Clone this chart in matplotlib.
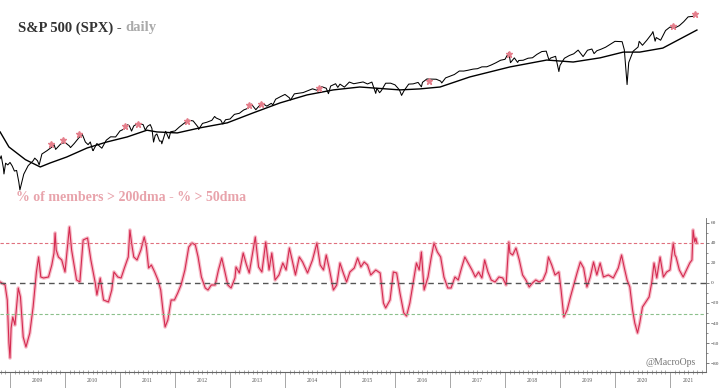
import matplotlib.pyplot as plt
from matplotlib.ticker import MultipleLocator

plt.rcParams['font.family'] = ['Liberation Serif', 'DejaVu Serif']

# S&P 500 price (decimal year, level)
spx_t = [2008.82, 2008.84, 2008.88, 2008.89, 2008.92, 2008.96, 2009.00, 2009.04, 2009.08, 2009.12,
         2009.16, 2009.18, 2009.25, 2009.33, 2009.42, 2009.45, 2009.50, 2009.53, 2009.58, 2009.67,
         2009.75, 2009.80, 2009.83, 2009.92, 2010.00, 2010.08, 2010.10, 2010.17, 2010.25, 2010.31,
         2010.33, 2010.37, 2010.42, 2010.46, 2010.50, 2010.51, 2010.58, 2010.63, 2010.67, 2010.75,
         2010.83, 2010.92, 2011.00, 2011.08, 2011.14, 2011.17, 2011.21, 2011.25, 2011.33, 2011.42,
         2011.46, 2011.50, 2011.55, 2011.58, 2011.61, 2011.64, 2011.67, 2011.72, 2011.75, 2011.76,
         2011.83, 2011.89, 2011.92, 2012.00, 2012.08, 2012.17, 2012.25, 2012.33, 2012.42, 2012.43,
         2012.50, 2012.58, 2012.67, 2012.72, 2012.75, 2012.83, 2012.87, 2012.92, 2013.00, 2013.08,
         2013.17, 2013.25, 2013.33, 2013.39, 2013.42, 2013.47, 2013.50, 2013.58, 2013.67, 2013.75,
         2013.78, 2013.83, 2013.92, 2014.00, 2014.08, 2014.10, 2014.17, 2014.25, 2014.33, 2014.42,
         2014.50, 2014.58, 2014.67, 2014.75, 2014.79, 2014.83, 2014.92, 2014.96, 2015.00, 2015.08,
         2015.17, 2015.25, 2015.33, 2015.42, 2015.50, 2015.58, 2015.65, 2015.67, 2015.72, 2015.75,
         2015.83, 2015.92, 2016.00, 2016.08, 2016.12, 2016.17, 2016.25, 2016.33, 2016.42, 2016.48,
         2016.50, 2016.58, 2016.67, 2016.75, 2016.83, 2016.85, 2016.92, 2017.00, 2017.08, 2017.17,
         2017.25, 2017.33, 2017.42, 2017.50, 2017.58, 2017.67, 2017.75, 2017.83, 2017.92, 2018.00,
         2018.07, 2018.10, 2018.17, 2018.23, 2018.25, 2018.33, 2018.42, 2018.50, 2018.58, 2018.67,
         2018.75, 2018.80, 2018.83, 2018.92, 2018.98, 2019.00, 2019.08, 2019.17, 2019.25, 2019.33,
         2019.42, 2019.50, 2019.58, 2019.62, 2019.67, 2019.75, 2019.83, 2019.92, 2020.00, 2020.08,
         2020.13, 2020.17, 2020.22, 2020.25, 2020.33, 2020.42, 2020.44, 2020.50, 2020.58, 2020.67,
         2020.69, 2020.73, 2020.75, 2020.83, 2020.92, 2021.00, 2021.08, 2021.17, 2021.25, 2021.33,
         2021.42, 2021.47]
spx = [940, 968, 850, 800, 896, 880, 903, 870, 825, 830,
       735, 676, 798, 873, 919, 945, 919, 880, 987, 1021,
       1057, 1090, 1036, 1096, 1115, 1074, 1056, 1104, 1169, 1217,
       1187, 1120, 1089, 1120, 1031, 1022, 1102, 1070, 1049, 1141,
       1183, 1181, 1258, 1286, 1343, 1327, 1256, 1326, 1364, 1345,
       1268, 1321, 1345, 1292, 1119, 1200, 1219, 1130, 1131, 1099,
       1253, 1158, 1247, 1258, 1312, 1366, 1408, 1398, 1310, 1278,
       1362, 1379, 1407, 1465, 1441, 1412, 1353, 1416, 1426, 1498,
       1515, 1569, 1598, 1669, 1631, 1573, 1606, 1686, 1633, 1682,
       1656, 1757, 1806, 1848, 1783, 1741, 1859, 1872, 1884, 1924,
       1960, 1931, 2003, 1972, 1862, 2018, 2068, 1990, 2059, 1995,
       2105, 2068, 2086, 2107, 2063, 2104, 1868, 1972, 1882, 1920,
       2079, 2080, 2044, 1940, 1829, 1932, 2060, 2065, 2097, 2001,
       2099, 2174, 2171, 2168, 2126, 2085, 2199, 2239, 2279, 2364,
       2363, 2384, 2412, 2423, 2470, 2472, 2519, 2575, 2648, 2674,
       2873, 2581, 2714, 2588, 2641, 2648, 2705, 2718, 2816, 2902,
       2914, 2656, 2711, 2760, 2351, 2507, 2704, 2784, 2834, 2946,
       2752, 2942, 2980, 2840, 2926, 2977, 3038, 3141, 3231, 3226,
       3220, 2954, 2050, 2585, 2912, 3044, 3232, 3100, 3271, 3500,
       3580, 3237, 3363, 3270, 3622, 3756, 3714, 3811, 3973, 4181,
       4204, 4250]

# long moving average
ma_t = [2008.82, 2008.98, 2009.28, 2009.55, 2009.73, 2010.03, 2010.40, 2010.76, 2011.13, 2011.49,
        2011.67, 2012.04, 2012.45, 2012.95, 2013.42, 2013.91, 2014.40, 2014.88, 2015.36, 2016.09,
        2016.45, 2016.82, 2017.36, 2018.09, 2018.76, 2019.24, 2019.73, 2020.15, 2020.45, 2020.87,
        2021.49]
ma = [1245, 1063, 930, 861, 898, 956, 1051, 1120, 1181, 1268,
      1245, 1232, 1299, 1370, 1521, 1690, 1838, 1938, 1998, 1938,
      1958, 1998, 2221, 2468, 2654, 2599, 2716, 2885, 2885, 3010,
      3640]

# red stars on the price line
star_t = [2009.75, 2009.96, 2010.25, 2011.09, 2011.33, 2012.22, 2013.35, 2013.56, 2014.62, 2016.62,
          2018.07, 2021.05, 2021.45]
star_p = [1097, 1143, 1218, 1326, 1354, 1397, 1652, 1669, 1978, 2128,
          2827, 3795, 4330]

# % of members > 200dma - % > 50dma
br_t = [2008.82, 2008.91, 2008.95, 2008.98, 2009.00, 2009.02, 2009.05, 2009.09, 2009.15, 2009.19,
        2009.24, 2009.29, 2009.36, 2009.42, 2009.48, 2009.52, 2009.56, 2009.61, 2009.70, 2009.76,
        2009.80, 2009.82, 2009.84, 2009.88, 2009.94, 2010.00, 2010.08, 2010.12, 2010.21, 2010.27,
        2010.33, 2010.41, 2010.47, 2010.55, 2010.58, 2010.64, 2010.70, 2010.79, 2010.85, 2010.89,
        2010.96, 2011.02, 2011.08, 2011.15, 2011.18, 2011.21, 2011.25, 2011.31, 2011.38, 2011.44,
        2011.48, 2011.52, 2011.57, 2011.63, 2011.69, 2011.74, 2011.78, 2011.82, 2011.87, 2011.93,
        2011.99, 2012.05, 2012.11, 2012.18, 2012.25, 2012.31, 2012.37, 2012.42, 2012.48, 2012.55,
        2012.60, 2012.66, 2012.73, 2012.79, 2012.85, 2012.90, 2012.96, 2013.02, 2013.09, 2013.11,
        2013.17, 2013.24, 2013.30, 2013.35, 2013.41, 2013.46, 2013.52, 2013.58, 2013.65, 2013.71,
        2013.76, 2013.82, 2013.89, 2013.96, 2014.02, 2014.08, 2014.13, 2014.19, 2014.26, 2014.32,
        2014.41, 2014.50, 2014.58, 2014.64, 2014.70, 2014.75, 2014.81, 2014.88, 2014.94, 2015.00,
        2015.06, 2015.12, 2015.18, 2015.26, 2015.32, 2015.38, 2015.44, 2015.50, 2015.56, 2015.65,
        2015.73, 2015.79, 2015.83, 2015.91, 2015.97, 2016.03, 2016.09, 2016.16, 2016.21, 2016.27,
        2016.33, 2016.39, 2016.44, 2016.48, 2016.53, 2016.60, 2016.66, 2016.71, 2016.77, 2016.83,
        2016.89, 2016.96, 2017.02, 2017.09, 2017.15, 2017.21, 2017.27, 2017.33, 2017.40, 2017.46,
        2017.52, 2017.58, 2017.63, 2017.69, 2017.75, 2017.82, 2017.89, 2017.96, 2018.02, 2018.07,
        2018.09, 2018.14, 2018.20, 2018.26, 2018.32, 2018.38, 2018.44, 2018.50, 2018.56, 2018.62,
        2018.69, 2018.75, 2018.79, 2018.85, 2018.91, 2018.98, 2019.02, 2019.07, 2019.13, 2019.19,
        2019.25, 2019.31, 2019.37, 2019.43, 2019.49, 2019.55, 2019.61, 2019.67, 2019.73, 2019.79,
        2019.88, 2019.97, 2020.06, 2020.12, 2020.17, 2020.22, 2020.27, 2020.32, 2020.36, 2020.41,
        2020.45, 2020.50, 2020.56, 2020.62, 2020.67, 2020.71, 2020.76, 2020.82, 2020.88, 2020.94,
        2021.00, 2021.06, 2021.09, 2021.11, 2021.17, 2021.24, 2021.30, 2021.36, 2021.40, 2021.42,
        2021.45, 2021.47, 2021.49]
br_v = [1, -2, -17, -60, -75, -45, -34, -42, -5, -14,
        -54, -64, -50, -24, 11, 26, 6, 5, 6, 18,
        30, 50, 33, 26, 23, 11, 56, 33, 3, 1,
        43, 45, 23, 0, -12, 5, -17, -19, -7, 11,
        6, 5, 15, 26, 53, 40, 26, 23, 33, 46,
        36, 15, 18, 11, 3, -7, -27, -44, -37, -17,
        -17, -10, -2, 13, 36, 40, 38, 26, 6, -5,
        -7, -2, -2, 13, 25, 13, -2, -5, 5, 16,
        10, 30, 18, 10, 30, 46, 16, 11, 41, 13,
        30, 3, 8, 20, 13, 35, 23, 8, 26, 21,
        10, 23, 40, 18, 13, 28, 13, -7, -2, 20,
        10, 1, 11, 15, 25, 16, 21, 18, 8, 13,
        10, -20, -25, -17, 11, 10, -10, -30, -33, -20,
        0, 20, 13, 31, -7, 6, 26, 40, 31, 26,
        6, -5, -5, 6, 3, 15, 26, 20, 13, 6,
        11, 5, 23, 11, 3, 1, 6, 5, -2, 41,
        30, 28, 35, 23, 8, 3, -4, 0, 3, 1,
        3, 11, 26, 18, 8, 11, -7, -34, -27, -14,
        -2, 10, 21, 15, -4, 6, 21, 8, 20, 6,
        8, 5, 15, 28, 15, 3, -4, -27, -40, -50,
        -40, -24, -19, -14, 1, 20, 5, 26, 6, 11,
        13, 40, 28, 26, 13, 6, 13, 20, 23, 53,
        41, 45, 40]

levels = [40, 0, -31]
years = list(range(2009, 2022))

fig = plt.figure(figsize=(7.2, 3.88), dpi=100)
x0, x1 = 2008.818, 2021.655
axw = 706 / 720

# top panel: price, log scale, no axes drawn
ax1 = fig.add_axes([0, 0.4845, axw, 0.5155])
ax1.set_yscale('log')
ax1.plot(spx_t, spx, color='black', lw=0.75)
ax1.plot(ma_t, ma, color='black', lw=1.0)
ax1.plot(star_t, star_p, ls='none', marker='*', ms=5, color='#e57f8c')
ax1.set_xlim(x0, x1)
ax1.set_ylim(608, 4993)
ax1.axis('off')

# bottom panel: breadth spread
ax2 = fig.add_axes([0, 0.0412, axw, 0.397])
ax2.plot(br_t, br_v, color='#f4a6b6', lw=2.6, alpha=0.75)
ax2.plot(br_t, br_v, color='#d42a50', lw=0.8)
ax2.axhline(levels[0], color='#e0707e', lw=0.8, ls=(0, (3, 2)))
ax2.axhline(levels[1], color='#555555', lw=1.0, ls=(0, (4, 3)))
ax2.axhline(levels[2], color='#8cc08c', lw=0.8, ls=(0, (3, 2)))
ax2.set_xlim(x0, x1)
ax2.set_ylim(-89, 65)

for s in ['left', 'top']:
    ax2.spines[s].set_visible(False)
ax2.spines['right'].set_color('#666666')
ax2.spines['right'].set_linewidth(0.6)
ax2.spines['bottom'].set_color('#666666')
ax2.spines['bottom'].set_linewidth(0.8)

ax2.yaxis.tick_right()
ax2.set_yticks(range(-80, 61, 20))
ax2.yaxis.set_minor_locator(MultipleLocator(10))
ax2.tick_params(axis='y', which='major', labelsize=3.8, labelcolor='#444444',
                length=2, width=0.6, color='#666666', pad=1.2)
ax2.tick_params(axis='y', which='minor', length=1.2, width=0.5, color='#666666')

ax2.set_xticks(years)
ax2.set_xticklabels([])
ax2.xaxis.set_minor_locator(MultipleLocator(1 / 12))
ax2.tick_params(axis='x', which='major', length=13, width=0.6, color='#999999')
ax2.tick_params(axis='x', which='minor', direction='inout', length=2.5, width=0.5, color='#888888')

xt = ax2.get_xaxis_transform()
for y in years:
    xm = (y + min(y + 1, x1)) / 2
    ax2.text(xm, -0.058, str(y), transform=xt, fontsize=4, color='#555555',
             ha='center', va='center')

# titles
t1 = fig.text(0.025, 0.928, 'S&P 500 (SPX) -', fontsize=10.5, fontweight='bold',
              color='#333333', va='center')
fig.canvas.draw()
bb = t1.get_window_extent(fig.canvas.get_renderer())
fig.text((bb.x1 + 4) / 720, 0.928, 'daily', fontsize=10.5, fontweight='bold',
         color='#aaaaaa', va='center')

fig.text(0.022, 0.490, '% of members > 200dma - % > 50dma', fontsize=10,
         fontweight='bold', color='#e8a3ab', va='center')
fig.text(0.966, 0.067, '@MacroOps', fontsize=7, color='#777777', ha='right', va='center')

fig.savefig('out.png', dpi=100)
